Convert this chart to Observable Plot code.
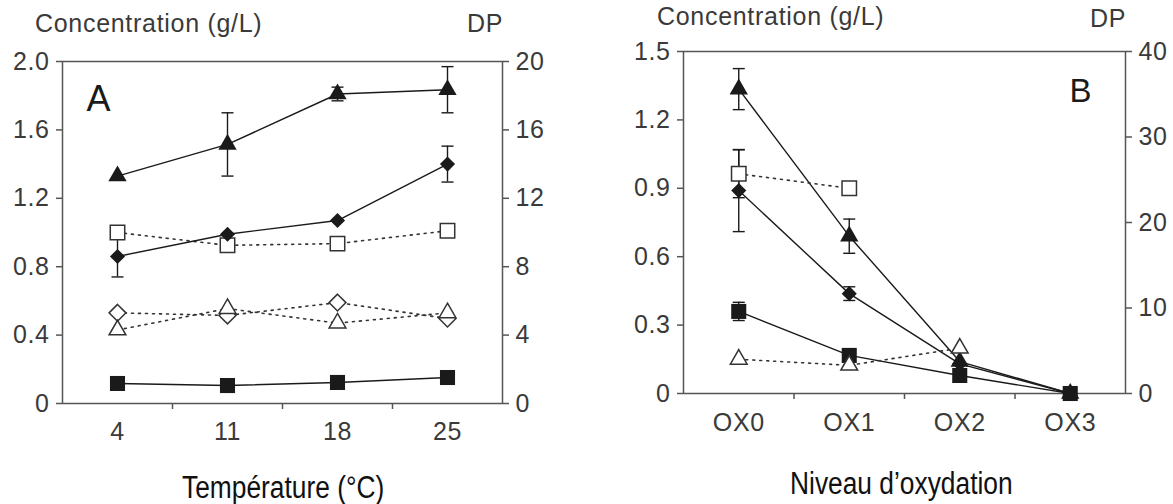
<!DOCTYPE html>
<html>
<head>
<meta charset="utf-8">
<script src="https://cdn.jsdelivr.net/npm/d3@7"></script>
<script src="https://cdn.jsdelivr.net/npm/@observablehq/plot@0.6"></script>
<style>
  html, body { margin: 0; padding: 0; background: #fff; }
  #root { position: relative; width: 1173px; height: 504px; overflow: hidden; font-family: "Liberation Sans", Arial, sans-serif; }
  .panel { position: absolute; top: 0; }
  .t { position: absolute; line-height: 1; white-space: nowrap; color: #3a3a3a; font-size: 25px; letter-spacing: 0.7px; }
  .xt { position: absolute; line-height: 1; white-space: nowrap; color: #111; font-size: 31px;
        font-family: "Liberation Sans", Arial, sans-serif; transform: scaleX(0.85); transform-origin: 0 0; }
</style>
</head>
<body>
<div id="root">
  <div class="panel" id="pa" style="left:0px"></div>
  <div class="panel" id="pb" style="left:600px"></div>
  <div class="t" style="left:35px; top:11px">Concentration (g/L)</div>
  <div class="t" style="left:467px; top:11px">DP</div>
  <div class="t" style="left:657px; top:4px">Concentration (g/L)</div>
  <div class="t" style="left:1090px; top:6px">DP</div>
  <div class="xt" style="left:182px; top:472px">Température (°C)</div>
  <div class="xt" style="left:790px; top:468px">Niveau d’oxydation</div>
</div>
<script>
// ---------- Panel A : temperature ----------
const tempCats = [4, 11, 18, 25];
const tempBoundaries = [7.5, 14.5, 21.5];
const aConcTicks = [0, 0.4, 0.8, 1.2, 1.6, 2.0];
const aDpTicks = [0, 4, 8, 12, 16, 20];

const aTriangle    = [1.33, 1.515, 1.81, 1.835];
const aTriangleErr = [0, 0.185, 0.04, 0.135];
const aDiamond     = [0.86, 0.99, 1.07, 1.40];
const aDiamondErr  = [0.12, 0, 0, 0.105];
const aSquare      = [0.117, 0.105, 0.123, 0.152];
const aDpSquare    = [10.0, 9.25, 9.35, 10.1];
const aDpDiamond   = [5.3, 5.15, 5.9, 4.97];
const aDpTriangle  = [4.3, 5.55, 4.7, 5.3];

// ---------- Panel B : oxidation level ----------
const oxCats = ["OX0", "OX1", "OX2", "OX3"];
const oxIndex = [0, 1, 2, 3];
const oxBoundaries = [0.5, 1.5, 2.5];
const bConcTicks = [0, 0.3, 0.6, 0.9, 1.2, 1.5];
const bDpTicks = [0, 10, 20, 30, 40];

const bTriangle    = [1.335, 0.69, 0.14, 0];
const bTriangleErr = [0.09, 0.075, 0, 0];
const bDiamond     = [0.89, 0.438, 0.13, 0];
const bDiamondErr  = [0.18, 0.03, 0, 0];
const bSquare      = [0.36, 0.167, 0.079, 0];
const bSquareErr   = [0.04, 0, 0, 0];
const bDpSquare    = [25.7, 24.0, null, null];
const bDpSquareErr = [2.8, 0, 0, 0];
const bDpTriangle  = [4.0, 3.3, 5.3, null];

// ---------- styles ----------
const SOLID = {stroke: "#1a1a1a", strokeWidth: 1.4};
const DOTTED = {stroke: "#333", strokeWidth: 1.6, strokeDasharray: "2,5"};
const STYLE = {
  triangle:  {symbol: "triangle", r: 6.8, fill: "#1a1a1a", stroke: "none", line: SOLID},
  diamond:   {symbol: "diamond2", r: 6.8, fill: "#1a1a1a", stroke: "none", line: SOLID},
  square:    {symbol: "square",   r: 8.5, fill: "#1a1a1a", stroke: "none", line: SOLID},
  oSquare:   {symbol: "square2",  r: 9.2, fill: "white", stroke: "#333", line: DOTTED},
  oDiamond:  {symbol: "diamond2", r: 7.6, fill: "white", stroke: "#333", line: DOTTED},
  oTriangle: {symbol: "triangle2", r: 8.0, fill: "white", stroke: "#333", line: DOTTED}
};

const capSymbol = { draw(ctx) { ctx.moveTo(-6, 0); ctx.lineTo(6, 0); } };

function rows(xs, vals, errs, factor) {
  return xs.map((x, i) => ({x, y: vals[i] == null ? null : vals[i] / factor, e: errs ? errs[i] / factor : 0}))
           .filter(d => d.y != null);
}

function panel(cfg) {
  const marks = [];
  for (const s of cfg.series) {
    const st = STYLE[s.style];
    marks.push(Plot.line(s.data, {x: "x", y: "y", ...st.line}));
  }
  for (const s of cfg.series) {
    const er = s.data.filter(d => d.e > 0);
    if (!er.length) continue;
    marks.push(Plot.ruleX(er, {x: "x", y1: d => d.y - d.e, y2: d => d.y + d.e, stroke: "#1a1a1a", strokeWidth: 1.4}));
    marks.push(Plot.dot(er, {x: "x", y: d => d.y - d.e, symbol: capSymbol, stroke: "#1a1a1a", strokeWidth: 1.4, fill: "none"}));
    marks.push(Plot.dot(er, {x: "x", y: d => d.y + d.e, symbol: capSymbol, stroke: "#1a1a1a", strokeWidth: 1.4, fill: "none"}));
  }
  for (const s of cfg.series) {
    const st = STYLE[s.style];
    marks.push(Plot.dot(s.data, {x: "x", y: "y", symbol: st.symbol, r: st.r, fill: st.fill, stroke: st.stroke, strokeWidth: 1.5}));
  }
  const fmtConc = d => d === 0 ? "0" : d.toFixed(1);
  return Plot.plot({
    width: cfg.width, height: cfg.height,
    marginLeft: cfg.ml, marginRight: cfg.mr, marginTop: cfg.mt, marginBottom: cfg.mb,
    style: {fontFamily: "'Liberation Sans', Arial, sans-serif", color: "#3a3a3a", background: "white", overflow: "visible", letterSpacing: "0.6px"},
    x: {type: "linear", domain: cfg.xDomain},
    y: {type: "linear", domain: [0, cfg.yMax]},
    marks: [
      Plot.frame({stroke: "#555", strokeWidth: 1.5}),
      Plot.axisY(cfg.concTicks, {anchor: "left", tickSize: 6, tickPadding: 7, tickFormat: fmtConc, fontSize: 25, label: null, stroke: "#555", strokeWidth: 1.5}),
      Plot.axisY(cfg.dpTicks.map(t => t / cfg.ratio), {anchor: "right", tickSize: 6, tickPadding: 7, tickFormat: d => String(Math.round(d * cfg.ratio)), fontSize: 25, label: null, stroke: "#555", strokeWidth: 1.5}),
      Plot.axisX(cfg.boundaries, {tickSize: 6, tickFormat: () => "", label: null, stroke: "#555", strokeWidth: 1.5}),
      Plot.axisX(cfg.xTicks, {tickSize: 0, tickPadding: cfg.xPad, tickFormat: cfg.xFormat, fontSize: 25, label: null}),
      ...marks,
      Plot.text([cfg.letter], {frameAnchor: cfg.letterAnchor, dx: cfg.letterDx, dy: cfg.letterDy, fontSize: cfg.letterSize, fill: "#1a1a1a", textAnchor: "start", lineAnchor: "top"})
    ]
  });
}

const A = panel({
  width: 560, height: 445, ml: 62, mr: 58, mt: 61, mb: 42,
  xDomain: [0.5, 28.5], xTicks: tempCats, xFormat: d => String(d), boundaries: tempBoundaries, xPad: 19,
  yMax: 2.0, concTicks: aConcTicks, dpTicks: aDpTicks, ratio: 10,
  letter: "A", letterAnchor: "top-left", letterDx: 24, letterDy: 24, letterSize: 36,
  series: [
    {style: "oSquare",   data: rows(tempCats, aDpSquare, null, 10)},
    {style: "oDiamond",  data: rows(tempCats, aDpDiamond, null, 10)},
    {style: "oTriangle", data: rows(tempCats, aDpTriangle, null, 10)},
    {style: "triangle",  data: rows(tempCats, aTriangle, aTriangleErr, 1)},
    {style: "diamond",   data: rows(tempCats, aDiamond, aDiamondErr, 1)},
    {style: "square",    data: rows(tempCats, aSquare, null, 1)}
  ]
});
document.getElementById("pa").appendChild(A);

const ratioB = 40 / 1.5;
const B = panel({
  width: 573, height: 445, ml: 83, mr: 48, mt: 51, mb: 52,
  xDomain: [-0.5, 3.5], xTicks: oxIndex, xFormat: i => oxCats[i], boundaries: oxBoundaries, xPad: 20,
  yMax: 1.5, concTicks: bConcTicks, dpTicks: bDpTicks, ratio: ratioB,
  letter: "B", letterAnchor: "top-right", letterDx: -56, letterDy: 27, letterSize: 33,
  series: [
    {style: "triangle",  data: rows(oxIndex, bTriangle, bTriangleErr, 1)},
    {style: "diamond",   data: rows(oxIndex, bDiamond, bDiamondErr, 1)},
    {style: "square",    data: rows(oxIndex, bSquare, bSquareErr, 1)},
    {style: "oSquare",   data: rows(oxIndex, bDpSquare, bDpSquareErr, ratioB)},
    {style: "oTriangle", data: rows(oxIndex, bDpTriangle, null, ratioB)}
  ]
});
document.getElementById("pb").appendChild(B);
</script>
</body>
</html>
